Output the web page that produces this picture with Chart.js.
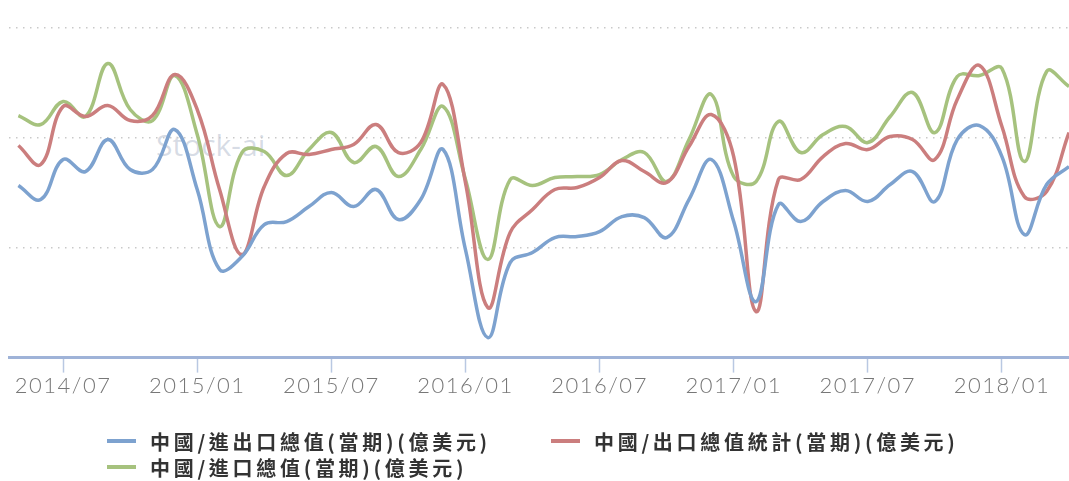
<!DOCTYPE html>
<html>
<head>
<meta charset="utf-8">
<script src="https://cdn.jsdelivr.net/npm/chart.js@4.4.1/dist/chart.umd.min.js"></script>
<style>
  html, body { margin: 0; padding: 0; background: #fff; }
  #wrap { position: relative; width: 1069px; height: 481px; overflow: hidden; }
  #mark { position: absolute; left: 156px; top: 124px; font: 30px 'Open Sans', sans-serif; color: rgba(140, 155, 180, 0.35); }
  canvas { position: absolute; left: 0; top: 0; }
  #legend { position: absolute; left: 107px; top: 428px; display: grid; grid-template-columns: 444px auto; }
  .item { display: flex; align-items: center; height: 26px; font: bold 20px 'Noto Sans CJK TC', sans-serif; letter-spacing: 3.7px; color: #333; white-space: nowrap; }
  .sw { width: 29px; height: 4px; margin-right: 14px; }
</style>
</head>
<body>
<div id="wrap">
  <div id="mark">Stock-ai</div>
  <canvas id="chart" width="1069" height="481"></canvas>
  <div id="legend"></div>
</div>
<script>
// 月份 (2014/05 ~ 2018/04)
const months = [
  '2014/05','2014/06','2014/07','2014/08','2014/09','2014/10','2014/11','2014/12',
  '2015/01','2015/02','2015/03','2015/04','2015/05','2015/06','2015/07','2015/08','2015/09','2015/10','2015/11','2015/12',
  '2016/01','2016/02','2016/03','2016/04','2016/05','2016/06','2016/07','2016/08','2016/09','2016/10','2016/11','2016/12',
  '2017/01','2017/02','2017/03','2017/04','2017/05','2017/06','2017/07','2017/08','2017/09','2017/10','2017/11','2017/12',
  '2018/01','2018/02','2018/03','2018/04'
];
// X 軸要顯示的刻度
const tickMonths = ['2014/07','2015/01','2015/07','2016/01','2016/07','2017/01','2017/07','2018/01'];

// 三條線的數值 (圖上無 Y 軸刻度，以相對值讀取)
const totalTrade = [172,158,198,186,218,188,188,228,168,88,101,133,136,151,165,151,168,138,158,208,
  108,20,95,105,120,121,126,141,140,120,158,198,136,56,153,136,156,167,156,173,186,156,218,232,201,123,173,191];
const exportTotal = [212,193,251,241,252,237,242,283,248,168,103,171,204,203,208,213,233,205,215,273,
  175,50,125,148,168,170,180,197,186,175,211,243,201,46,178,178,201,214,208,221,218,198,258,292,231,161,166,225];
const importTotal = [242,233,256,241,294,248,237,282,223,131,205,206,182,208,225,195,211,181,208,251,
  178,98,178,172,180,181,183,198,205,176,218,263,181,176,236,205,223,231,215,241,265,225,281,282,289,196,286,271];

const seriesNames = ['中國/進出口總值(當期)(億美元)', '中國/出口總值統計(當期)(億美元)', '中國/進口總值(當期)(億美元)'];
const seriesColors = ['#7da2cf', '#cb7e7e', '#a6c27e'];
const seriesData = [totalTrade, exportTotal, importTotal];

// 讓刻度文字有一點字距
const letterSpacing = {
  id: 'letterSpacing',
  beforeDraw(chart) { chart.ctx.letterSpacing = '1.5px'; }
};

const chart = new Chart(document.getElementById('chart'), {
  type: 'line',
  data: {
    datasets: seriesData.map((arr, k) => ({
      label: seriesNames[k],
      data: arr.map((v, i) => ({ x: i, y: v })),
      borderColor: seriesColors[k],
      borderWidth: 3.5,
      pointRadius: 0,
      tension: 0.4,
      fill: false
    }))
  },
  options: {
    responsive: false,
    animation: false,
    layout: { padding: { left: 9, right: 0, top: 27.5, bottom: 82 } },
    plugins: { legend: { display: false }, tooltip: { enabled: false } },
    scales: {
      x: {
        type: 'linear',
        min: -0.42,
        max: 47,
        afterBuildTicks: s => { s.ticks = tickMonths.map(m => ({ value: months.indexOf(m) })); },
        ticks: {
          callback: v => months[v],
          font: { family: 'Lato', size: 22, weight: 300 },
          color: '#777',
          padding: 0,
          maxRotation: 0,
          autoSkip: false
        },
        grid: { drawOnChartArea: false, tickLength: 15, tickColor: '#b9c8e2', tickWidth: 1.5 },
        border: { color: '#9fb3d8', width: 3 }
      },
      y: {
        min: 0,
        max: 330,
        afterBuildTicks: s => { s.ticks = [110, 220, 330].map(v => ({ value: v })); },
        ticks: { display: false },
        grid: { color: '#c9c9c9', lineWidth: 1.5, drawTicks: false },
        border: { display: false, dash: [1.5, 5.5] }
      }
    }
  },
  plugins: [letterSpacing]
});

// 自製圖例 (兩欄排列)
const legend = document.getElementById('legend');
[0, 1, 2].forEach(k => {
  const item = document.createElement('div');
  item.className = 'item';
  item.innerHTML = '<span class="sw" style="background:' + seriesColors[k] + '"></span>' + seriesNames[k];
  legend.appendChild(item);
});
</script>
</body>
</html>
